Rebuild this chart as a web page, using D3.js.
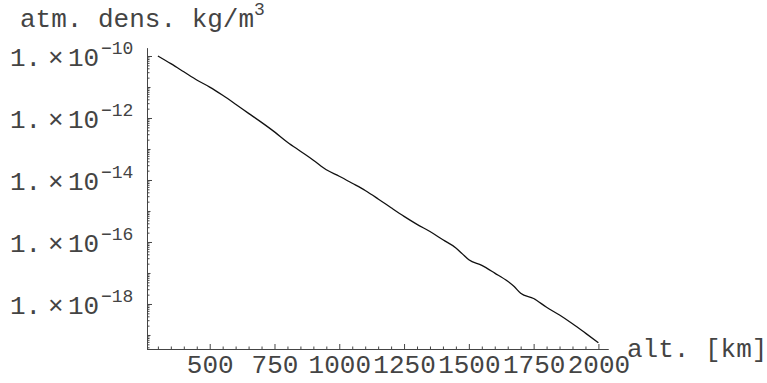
<!DOCTYPE html>
<html>
<head>
<meta charset="utf-8">
<script src="https://cdn.jsdelivr.net/npm/d3@7"></script>
<style>
  body { margin: 0; background: #fff; }
  text { font-family: "Liberation Mono", monospace; fill: #444; }
</style>
</head>
<body>
<div id="chart"></div>
<script>
var w = 767, h = 383;

// altitude in km
var altitude = [300, 350, 400, 450, 500, 550, 600, 650, 700, 750, 800, 850, 900, 950,
  1000, 1050, 1100, 1150, 1200, 1250, 1300, 1350, 1400, 1450, 1475, 1500, 1550, 1600,
  1650, 1675, 1700, 1750, 1800, 1850, 1900, 1950, 2000];
// atmospheric density in kg/m^3
var density = [1.0e-10, 5.65e-11, 3.09e-11, 1.68e-11, 9.93e-12, 5.40e-12, 2.79e-12, 1.41e-12,
  7.21e-13, 3.56e-13, 1.66e-13, 8.49e-14, 4.35e-14, 2.13e-14, 1.32e-14, 7.83e-15, 4.58e-15,
  2.45e-15, 1.27e-15, 6.69e-16, 3.70e-16, 2.18e-16, 1.18e-16, 6.45e-17, 4.13e-17, 2.67e-17,
  1.76e-17, 9.93e-18, 5.40e-18, 3.64e-18, 2.21e-18, 1.50e-18, 7.83e-19, 4.39e-19, 2.30e-19,
  1.15e-19, 5.65e-20];

var xMajorTicks = [500, 750, 1000, 1250, 1500, 1750, 2000];
var yLabelExponents = [-10, -12, -14, -16, -18];

var x = d3.scaleLinear().domain([258, 2037]).range([147, 608]);
var y = d3.scaleLog().domain([3.53e-20, 1.81e-10]).range([349, 48]);

var svg = d3.select("#chart").append("svg").attr("width", w).attr("height", h);

// x axis: minor ticks every 50 km, major every 250 km
var xMinor = d3.range(300, 2001, 50).filter(function(v) { return v % 250 != 0; });
svg.append("g").attr("transform", "translate(0," + y.range()[0] + ")")
  .call(d3.axisBottom(x).tickValues(xMinor).tickSize(-2.5).tickSizeOuter(0).tickFormat(""))
  .call(function(g) { g.selectAll("line,path").attr("stroke", "#444"); });
var xAx = svg.append("g").attr("transform", "translate(0," + y.range()[0] + ")")
  .call(d3.axisBottom(x).tickValues(xMajorTicks).tickSize(-5).tickSizeOuter(0).tickFormat(d3.format("d")));
xAx.selectAll("line,path").attr("stroke", "#444");
xAx.selectAll("text").attr("y", 24).attr("dy", null).attr("font-size", 26)
  .attr("font-family", "Liberation Mono").attr("fill", "#444");

// y axis: log ticks
var yMinor = y.ticks().filter(function(v) {
  var e = Math.log10(v);
  return Math.abs(e - Math.round(e)) > 1e-6;
});
var yDecades = d3.range(-19, -9).map(function(e) { return Math.pow(10, e); });
var yOdd = yDecades.filter(function(v) { return Math.round(Math.log10(v)) % 2 != 0; });
var yEven = yDecades.filter(function(v) { return Math.round(Math.log10(v)) % 2 == 0; });

svg.append("g").attr("transform", "translate(" + x.range()[0] + ",0)")
  .call(d3.axisLeft(y).tickValues(yMinor).tickSize(-2.5).tickSizeOuter(0).tickFormat(""))
  .call(function(g) { g.selectAll("line,path").attr("stroke", "#444"); });
svg.append("g").attr("transform", "translate(" + x.range()[0] + ",0)")
  .call(d3.axisLeft(y).tickValues(yOdd).tickSize(-3.5).tickSizeOuter(0).tickFormat(""))
  .call(function(g) { g.selectAll("line,path").attr("stroke", "#444"); });
svg.append("g").attr("transform", "translate(" + x.range()[0] + ",0)")
  .call(d3.axisLeft(y).tickValues(yEven).tickSize(-5).tickSizeOuter(0).tickFormat(""))
  .call(function(g) { g.selectAll("line,path").attr("stroke", "#444"); });

// y labels like "1. x 10^-10"
yLabelExponents.forEach(function(e) {
  var yy = y(Math.pow(10, e));
  var t = svg.append("text").attr("font-size", 26).attr("y", yy + 10);
  t.append("tspan").attr("x", 10).text("1.");
  t.append("tspan").attr("x", 48).text("\u00d7");
  t.append("tspan").attr("x", 68).text("10");
  t.append("tspan").attr("x", 101).attr("y", yy - 2).attr("font-size", 18).text("\u2212" + (-e));
});

// data line
var line = d3.line()
  .x(function(d, i) { return x(altitude[i]); })
  .y(function(d, i) { return y(density[i]); })
  .curve(d3.curveMonotoneX);
svg.append("path").datum(altitude).attr("d", line)
  .attr("fill", "none").attr("stroke", "#111").attr("stroke-width", 1.3);

// axis titles
var title = svg.append("text").attr("x", 20).attr("y", 27).attr("font-size", 26);
title.append("tspan").text("atm. dens. kg/m");
title.append("tspan").attr("dy", -12).attr("font-size", 18).text("3");

svg.append("text").attr("x", 627).attr("y", 357).attr("font-size", 26).text("alt. [km]");
</script>
</body>
</html>
